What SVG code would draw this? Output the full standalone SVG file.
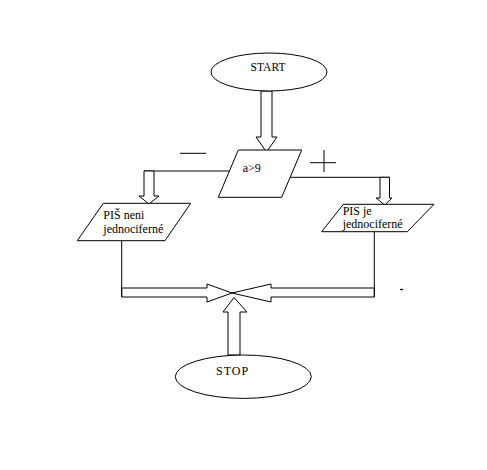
<svg xmlns="http://www.w3.org/2000/svg" width="487" height="470" viewBox="0 0 487 470">
<style>
.s{fill:#fff;stroke:#000;stroke-width:1}
.l{fill:none;stroke:#000;stroke-width:1}
.t{font-family:"Liberation Serif","Times New Roman",serif;font-size:12px;fill:#000}
</style>
<rect width="487" height="470" fill="#fff"/>
<g id="connectors">
<polygon class="s" points="261,91 272,91 272,137 277,137 266.5,152 256,137 261,137"/>
<polyline class="l" points="229.4,171 144,171"/>
<polygon class="s" points="144,171 154,171 154,196 159,196 149,204 139,196 144,196"/>
<polyline class="l" points="290.3,177.3 389.5,177.3"/>
<polygon class="s" points="380,177.3 389.5,177.3 389.5,198 392,198 384.7,205 376,198 380,198"/>
<polygon class="s" points="121.7,288 207,288 207,284 232,293 207,302 207,297 121.7,297"/>
<line class="l" x1="121.7" y1="240.7" x2="121.7" y2="297"/>
<polygon class="s" points="374.3,288 271,288 271,284 232,293 271,302 271,297 374.3,297"/>
<line class="l" x1="374.3" y1="231.7" x2="374.3" y2="297"/>
<polygon class="s" points="228,355 228,312 223,312 234,297.5 247,312 240,312 240,355"/>
<line class="l" x1="180" y1="153.3" x2="206" y2="153.3"/>
<line class="l" x1="310" y1="162.7" x2="336" y2="162.7"/>
<line class="l" x1="324" y1="150" x2="324" y2="172"/>
<line x1="400" y1="289.5" x2="403" y2="289.5" stroke="#000" stroke-width="1.3"/>
</g>
<g id="start">
<ellipse class="s" cx="269" cy="72" rx="58" ry="19"/>
<text class="t" x="268" y="70.7" text-anchor="middle" style="font-size:11.5px">START</text>
</g>
<g id="decision">
<polygon class="s" points="238.3,150 301.7,150 281.7,197.3 218.3,197.3"/>
<text class="t" x="242.7" y="172">a&gt;9</text>
</g>
<g id="out-neni">
<polygon class="s" points="103.3,203.3 190.7,203.3 165,240.7 77.3,240.7"/>
<text class="t" x="103.3" y="219">PIŠ neni</text>
<text class="t" x="103.3" y="232.7">jednociferné</text>
</g>
<g id="out-je">
<polygon class="s" points="343.3,204.3 434,204.3 407.3,231.7 321.7,231.7"/>
<text class="t" x="342.7" y="215">PIS je</text>
<text class="t" x="342.7" y="228.3">jednociferné</text>
</g>
<g id="stop">
<ellipse class="s" cx="243.3" cy="376.7" rx="68" ry="21.7"/>
<text class="t" x="216" y="375" letter-spacing="1">STOP</text>
</g>
</svg>
